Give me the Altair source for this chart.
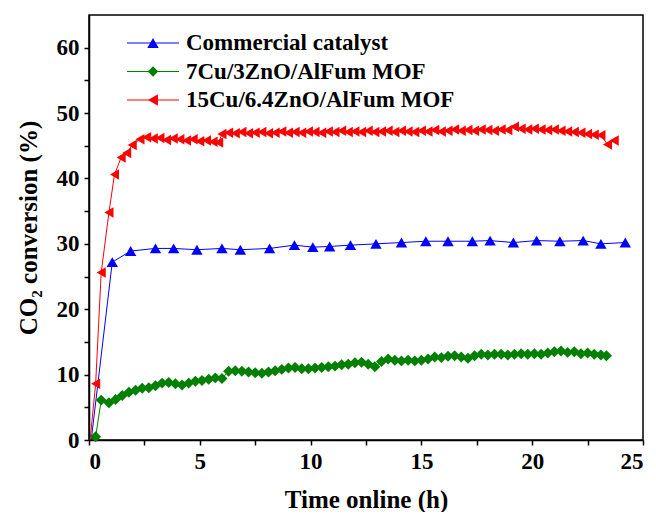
import altair as alt
import pandas as pd

series_names = ["Commercial catalyst", "7Cu/3ZnO/AlFum MOF", "15Cu/6.4ZnO/AlFum MOF"]
colors = ["#0000FF", "#008000", "#FF0000"]
shapes = ["triangle-up", "diamond", "triangle-left"]

blue_x = [0.1, 1.05, 1.88, 3.0, 3.82, 4.87, 6.0, 6.83, 8.15, 9.27, 10.1, 10.86, 11.8,
          12.95, 14.1, 15.2, 16.2, 17.3, 18.1, 19.15, 20.2, 21.25, 22.3, 23.1, 24.2]
blue_y = [0.0, 27.2, 28.9, 29.3, 29.3, 29.1, 29.3, 29.1, 29.3, 29.8, 29.5, 29.6, 29.8,
          30.0, 30.2, 30.4, 30.4, 30.4, 30.5, 30.2, 30.5, 30.4, 30.5, 30.0, 30.2]

green_x = [0.3, 0.55, 0.9, 1.2, 1.5, 1.8, 2.1, 2.4, 2.7, 3.0, 3.3, 3.6, 3.9, 4.2, 4.5, 4.8,
           5.1, 5.4, 5.7, 6.0, 6.3, 6.6, 6.9, 7.2, 7.5, 7.8, 8.1, 8.4, 8.7, 9.0, 9.3, 9.6,
           9.9, 10.2, 10.5, 10.8, 11.1, 11.4, 11.7, 12.0, 12.3, 12.6, 12.9, 13.2, 13.5, 13.8,
           14.1, 14.4, 14.7, 15.0, 15.3, 15.6, 15.9, 16.2, 16.5, 16.8, 17.1, 17.4, 17.7, 18.0,
           18.3, 18.6, 18.9, 19.2, 19.5, 19.8, 20.1, 20.4, 20.7, 21.0, 21.3, 21.6, 21.9, 22.2,
           22.5, 22.8, 23.1, 23.35]
green_y = [0.5, 6.1, 5.7, 6.2, 6.8, 7.3, 7.6, 7.9, 8.0, 8.3, 8.7, 8.8, 8.6, 8.4, 8.7, 9.0,
           9.1, 9.3, 9.5, 9.4, 10.5, 10.6, 10.5, 10.4, 10.3, 10.2, 10.4, 10.6, 10.8, 11.0, 11.1, 10.9,
           10.9, 11.0, 11.1, 11.2, 11.3, 11.5, 11.6, 11.8, 11.9, 11.6, 11.2, 12.0, 12.4, 12.2,
           12.1, 12.2, 12.1, 12.2, 12.4, 12.7, 12.6, 12.8, 12.9, 12.7, 12.5, 12.9, 13.1, 13.0,
           13.1, 13.1, 13.0, 13.1, 13.2, 13.1, 13.2, 13.1, 13.3, 13.5, 13.6, 13.4, 13.5, 13.2,
           13.3, 13.1, 13.0, 12.9]

red_x = [0.05, 0.3, 0.55, 0.9, 1.15, 1.45, 1.7, 1.95, 2.3, 2.6, 2.9, 3.2, 3.5, 3.8, 4.1, 4.4,
         4.7, 5.0, 5.3, 5.6, 5.85, 6.0, 6.3, 6.6, 6.9, 7.2, 7.5, 7.8, 8.1, 8.4, 8.7, 9.0, 9.3,
         9.6, 9.9, 10.2, 10.5, 10.8, 11.1, 11.4, 11.7, 12.0, 12.3, 12.6, 12.9, 13.2, 13.5, 13.8,
         14.1, 14.4, 14.7, 15.0, 15.3, 15.6, 15.9, 16.2, 16.5, 16.8, 17.1, 17.4, 17.7, 18.0, 18.3,
         18.6, 18.9, 19.2, 19.5, 19.8, 20.1, 20.4, 20.7, 21.0, 21.3, 21.6, 21.9, 22.2, 22.5, 22.8,
         23.1, 23.4, 23.7]
red_y = [0.0, 8.6, 25.6, 34.8, 40.6, 43.2, 43.9, 45.1, 46.0, 46.3, 46.1, 46.2, 45.9, 46.1, 46.0, 45.8,
         46.0, 45.7, 45.8, 45.6, 45.5, 46.8, 47.0, 46.9, 47.1, 46.9, 47.0, 47.1, 46.9, 47.0, 47.2, 47.0, 47.1,
         47.0, 47.2, 47.1, 47.0, 47.2, 47.1, 47.3, 47.1, 47.2, 47.1, 47.3, 47.1, 47.2, 47.3, 47.1,
         47.3, 47.2, 47.1, 47.3, 47.2, 47.4, 47.2, 47.3, 47.5, 47.3, 47.4, 47.3, 47.5, 47.4, 47.3,
         47.5, 47.4, 47.9, 47.6, 47.5, 47.6, 47.5, 47.4, 47.5, 47.3, 47.2, 47.1, 47.0, 46.8, 46.7,
         46.6, 45.2, 45.8]

x_ticks = [0, 2.5, 5, 7.5, 10, 12.5, 15, 17.5, 20, 22.5, 25]
y_ticks = [0, 5, 10, 15, 20, 25, 30, 35, 40, 45, 50, 55, 60]

rows = []
for name, xs_, ys_ in zip(series_names, [blue_x, green_x, red_x], [blue_y, green_y, red_y]):
    for xv, yv in zip(xs_, ys_):
        rows.append({"series": name, "t": xv, "conv": yv})
df = pd.DataFrame(rows)
df["order"] = range(len(df))

FONT = "Liberation Serif"
W, H = 554, 425

xs = alt.Scale(domain=[0, 25], nice=False, zero=False)
ys = alt.Scale(domain=[0, 65], nice=False)
cs = alt.Scale(domain=series_names, range=colors)
ss = alt.Scale(domain=series_names, range=shapes)

x_axis = alt.Axis(values=x_ticks, labelExpr="datum.value % 5 == 0 ? datum.label : ''",
                  title="Time online (h)", grid=False, labelPadding=5, titlePadding=14)
y_axis = alt.Axis(values=y_ticks, labelExpr="datum.value % 10 == 0 ? datum.label : ''",
                  title="CO₂ conversion (%)", grid=False, labelPadding=5, titleX=-48)

base = alt.Chart(df)
lines = base.mark_line(strokeWidth=1, clip=True).encode(
    x=alt.X("t:Q", scale=xs, axis=x_axis),
    y=alt.Y("conv:Q", scale=ys, axis=y_axis),
    color=alt.Color("series:N", scale=cs, legend=None),
    order="order:Q",
)
points = base.mark_point(filled=True, opacity=1).encode(
    x=alt.X("t:Q", scale=xs, axis=x_axis),
    y=alt.Y("conv:Q", scale=ys, axis=y_axis),
    color=alt.Color("series:N", scale=cs, legend=None),
    shape=alt.Shape("series:N", scale=ss, legend=None),
    size=alt.Size("series:N", scale=alt.Scale(domain=series_names, range=[130, 110, 130]), legend=None),
    order="order:Q",
).transform_filter("datum.conv > 0.3")

layers = [lines, points]
leg_y = [28, 56.5, 85]
leg_size = [130, 110, 130]
for name, col, shp, ly, sz in zip(series_names, colors, shapes, leg_y, leg_size):
    ldf = pd.DataFrame({"label": [name]})
    lc = alt.Chart(ldf)
    layers.append(lc.mark_rule(color=col, strokeWidth=1).encode(
        x=alt.value(38), x2=alt.value(90), y=alt.value(ly)))
    layers.append(lc.mark_point(shape=shp, filled=True, size=sz, color=col, opacity=1).encode(
        x=alt.value(64), y=alt.value(ly)))
    layers.append(lc.mark_text(align="left", baseline="middle", font=FONT, fontSize=23,
                               fontWeight="bold", color="black").encode(
        x=alt.value(97), y=alt.value(ly), text="label:N"))

chart = alt.layer(*layers).properties(
    width=W, height=H,
    autosize=alt.AutoSizeParams(type="none"),
    padding={"left": 81, "top": 7, "right": 5, "bottom": 72},
).configure_view(
    stroke="black", strokeWidth=1.5
).configure_axis(
    labelFont=FONT, labelFontSize=23, labelFontWeight="bold", labelColor="black",
    titleFont=FONT, titleFontSize=25, titleFontWeight="bold", titleColor="black",
    domainColor="black", domainWidth=1.5, tickColor="black", tickWidth=1.5, tickSize=5,
)

chart.save("out.html", embed_options={"renderer": "svg", "actions": False})
